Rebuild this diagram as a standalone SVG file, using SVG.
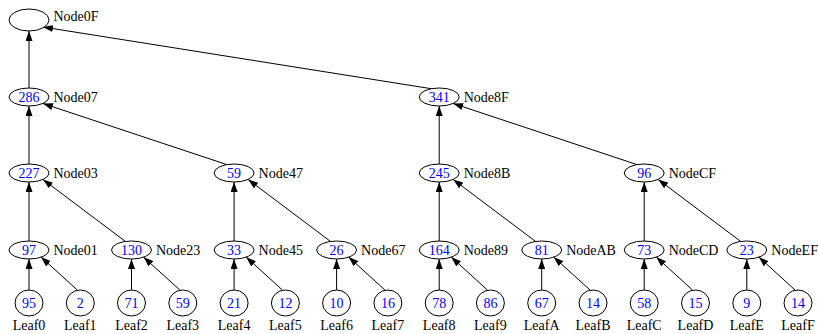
<svg xmlns="http://www.w3.org/2000/svg" width="818" height="334" viewBox="0 0 818 334">
  <style>
    .shape { fill: #ffffff; stroke: #000000; stroke-width: 1; }
    text { font-family: "Liberation Serif", "DejaVu Serif", "Noto Serif", serif; font-size: 14px; }
    .val { fill: #0000ff; text-anchor: middle; }
    .name { fill: #000000; }
    .leafname { fill: #000000; text-anchor: middle; }
    .edge { stroke: #000000; stroke-width: 1; fill: none; marker-end: url(#arrow); }
  </style>
  <defs>
    <marker id="arrow" markerUnits="userSpaceOnUse" markerWidth="10" markerHeight="7" refX="10" refY="3.5" orient="auto">
      <path d="M0,0 L10,3.5 L0,7 z" fill="#000000"/>
    </marker>
  </defs>
  <rect width="818" height="334" fill="#ffffff"/>

  <!-- connectors: child to parent, arrow at parent -->
  <g id="edges">
    <!-- leaves to level 1 -->
    <path class="edge" d="M29,290 L29,259"/>
    <path class="edge" d="M77.3,290 L41,257"/>
    <path class="edge" d="M131.5,290 L131.5,259"/>
    <path class="edge" d="M179.8,290 L143.5,257"/>
    <path class="edge" d="M234.1,290 L234.1,259"/>
    <path class="edge" d="M282.4,290 L246.1,257"/>
    <path class="edge" d="M336.6,290 L336.6,259"/>
    <path class="edge" d="M384.9,290 L348.6,257"/>
    <path class="edge" d="M439.2,290 L439.2,259"/>
    <path class="edge" d="M487.4,290 L451.2,257"/>
    <path class="edge" d="M541.7,290 L541.7,259"/>
    <path class="edge" d="M590,290 L553.7,257"/>
    <path class="edge" d="M644.2,290 L644.2,259"/>
    <path class="edge" d="M692.5,290 L656.2,257"/>
    <path class="edge" d="M746.8,290 L746.8,259"/>
    <path class="edge" d="M795,290 L758.8,257"/>
    <!-- level 1 to level 2 -->
    <path class="edge" d="M29,241 L29,182"/>
    <path class="edge" d="M125.5,241.5 L43,179.5"/>
    <path class="edge" d="M234.1,241 L234.1,182"/>
    <path class="edge" d="M330.6,241.5 L248.1,179.5"/>
    <path class="edge" d="M439.2,241 L439.2,182"/>
    <path class="edge" d="M535.7,241.5 L453.2,179.5"/>
    <path class="edge" d="M644.2,241 L644.2,182"/>
    <path class="edge" d="M740.8,241.5 L658.2,179.5"/>
    <!-- level 2 to level 3 -->
    <path class="edge" d="M29,164 L29,106"/>
    <path class="edge" d="M228.1,165 L43,103.5"/>
    <path class="edge" d="M439.2,164 L439.2,106"/>
    <path class="edge" d="M638.2,165 L453.2,103.5"/>
    <!-- level 3 to root -->
    <path class="edge" d="M29,88 L29,31"/>
    <path class="edge" d="M433.2,89 L43,27"/>
  </g>

  <!-- root -->
  <g id="Node0F">
    <ellipse class="shape" cx="29" cy="20" rx="20" ry="11"/>
    <text class="name" x="53.5" y="21">Node0F</text>
  </g>

  <!-- level 3 -->
  <g id="Node07">
    <ellipse class="shape" cx="29" cy="97" rx="20" ry="9"/>
    <text class="val" x="29" y="102">286</text>
    <text class="name" x="53.5" y="102">Node07</text>
  </g>
  <g id="Node8F">
    <ellipse class="shape" cx="439.2" cy="97" rx="20" ry="9"/>
    <text class="val" x="439.2" y="102">341</text>
    <text class="name" x="463.7" y="102">Node8F</text>
  </g>

  <!-- level 2 -->
  <g id="Node03">
    <ellipse class="shape" cx="29" cy="173" rx="20" ry="9"/>
    <text class="val" x="29" y="178">227</text>
    <text class="name" x="53.5" y="178">Node03</text>
  </g>
  <g id="Node47">
    <ellipse class="shape" cx="234.1" cy="173" rx="20" ry="9"/>
    <text class="val" x="234.1" y="178">59</text>
    <text class="name" x="258.6" y="178">Node47</text>
  </g>
  <g id="Node8B">
    <ellipse class="shape" cx="439.2" cy="173" rx="20" ry="9"/>
    <text class="val" x="439.2" y="178">245</text>
    <text class="name" x="463.7" y="178">Node8B</text>
  </g>
  <g id="NodeCF">
    <ellipse class="shape" cx="644.2" cy="173" rx="20" ry="9"/>
    <text class="val" x="644.2" y="178">96</text>
    <text class="name" x="668.7" y="178">NodeCF</text>
  </g>

  <!-- level 1 -->
  <g id="Node01">
    <ellipse class="shape" cx="29" cy="250" rx="20" ry="9"/>
    <text class="val" x="29" y="255">97</text>
    <text class="name" x="53.5" y="255">Node01</text>
  </g>
  <g id="Node23">
    <ellipse class="shape" cx="131.5" cy="250" rx="20" ry="9"/>
    <text class="val" x="131.5" y="255">130</text>
    <text class="name" x="156" y="255">Node23</text>
  </g>
  <g id="Node45">
    <ellipse class="shape" cx="234.1" cy="250" rx="20" ry="9"/>
    <text class="val" x="234.1" y="255">33</text>
    <text class="name" x="258.6" y="255">Node45</text>
  </g>
  <g id="Node67">
    <ellipse class="shape" cx="336.6" cy="250" rx="20" ry="9"/>
    <text class="val" x="336.6" y="255">26</text>
    <text class="name" x="361.1" y="255">Node67</text>
  </g>
  <g id="Node89">
    <ellipse class="shape" cx="439.2" cy="250" rx="20" ry="9"/>
    <text class="val" x="439.2" y="255">164</text>
    <text class="name" x="463.7" y="255">Node89</text>
  </g>
  <g id="NodeAB">
    <ellipse class="shape" cx="541.7" cy="250" rx="20" ry="9"/>
    <text class="val" x="541.7" y="255">81</text>
    <text class="name" x="566.2" y="255">NodeAB</text>
  </g>
  <g id="NodeCD">
    <ellipse class="shape" cx="644.2" cy="250" rx="20" ry="9"/>
    <text class="val" x="644.2" y="255">73</text>
    <text class="name" x="668.7" y="255">NodeCD</text>
  </g>
  <g id="NodeEF">
    <ellipse class="shape" cx="746.8" cy="250" rx="20" ry="9"/>
    <text class="val" x="746.8" y="255">23</text>
    <text class="name" x="771.3" y="255">NodeEF</text>
  </g>

  <!-- leaves -->
  <g id="Leaf0"><ellipse class="shape" cx="29" cy="303" rx="14" ry="13"/><text class="val" x="29" y="308">95</text><text class="leafname" x="29" y="330">Leaf0</text></g>
  <g id="Leaf1"><ellipse class="shape" cx="80.3" cy="303" rx="14" ry="13"/><text class="val" x="80.3" y="308">2</text><text class="leafname" x="80.3" y="330">Leaf1</text></g>
  <g id="Leaf2"><ellipse class="shape" cx="131.5" cy="303" rx="14" ry="13"/><text class="val" x="131.5" y="308">71</text><text class="leafname" x="131.5" y="330">Leaf2</text></g>
  <g id="Leaf3"><ellipse class="shape" cx="182.8" cy="303" rx="14" ry="13"/><text class="val" x="182.8" y="308">59</text><text class="leafname" x="182.8" y="330">Leaf3</text></g>
  <g id="Leaf4"><ellipse class="shape" cx="234.1" cy="303" rx="14" ry="13"/><text class="val" x="234.1" y="308">21</text><text class="leafname" x="234.1" y="330">Leaf4</text></g>
  <g id="Leaf5"><ellipse class="shape" cx="285.4" cy="303" rx="14" ry="13"/><text class="val" x="285.4" y="308">12</text><text class="leafname" x="285.4" y="330">Leaf5</text></g>
  <g id="Leaf6"><ellipse class="shape" cx="336.6" cy="303" rx="14" ry="13"/><text class="val" x="336.6" y="308">10</text><text class="leafname" x="336.6" y="330">Leaf6</text></g>
  <g id="Leaf7"><ellipse class="shape" cx="387.9" cy="303" rx="14" ry="13"/><text class="val" x="387.9" y="308">16</text><text class="leafname" x="387.9" y="330">Leaf7</text></g>
  <g id="Leaf8"><ellipse class="shape" cx="439.2" cy="303" rx="14" ry="13"/><text class="val" x="439.2" y="308">78</text><text class="leafname" x="439.2" y="330">Leaf8</text></g>
  <g id="Leaf9"><ellipse class="shape" cx="490.4" cy="303" rx="14" ry="13"/><text class="val" x="490.4" y="308">86</text><text class="leafname" x="490.4" y="330">Leaf9</text></g>
  <g id="LeafA"><ellipse class="shape" cx="541.7" cy="303" rx="14" ry="13"/><text class="val" x="541.7" y="308">67</text><text class="leafname" x="541.7" y="330">LeafA</text></g>
  <g id="LeafB"><ellipse class="shape" cx="593" cy="303" rx="14" ry="13"/><text class="val" x="593" y="308">14</text><text class="leafname" x="593" y="330">LeafB</text></g>
  <g id="LeafC"><ellipse class="shape" cx="644.2" cy="303" rx="14" ry="13"/><text class="val" x="644.2" y="308">58</text><text class="leafname" x="644.2" y="330">LeafC</text></g>
  <g id="LeafD"><ellipse class="shape" cx="695.5" cy="303" rx="14" ry="13"/><text class="val" x="695.5" y="308">15</text><text class="leafname" x="695.5" y="330">LeafD</text></g>
  <g id="LeafE"><ellipse class="shape" cx="746.8" cy="303" rx="14" ry="13"/><text class="val" x="746.8" y="308">9</text><text class="leafname" x="746.8" y="330">LeafE</text></g>
  <g id="LeafF"><ellipse class="shape" cx="798" cy="303" rx="14" ry="13"/><text class="val" x="798" y="308">14</text><text class="leafname" x="798" y="330">LeafF</text></g>
</svg>
